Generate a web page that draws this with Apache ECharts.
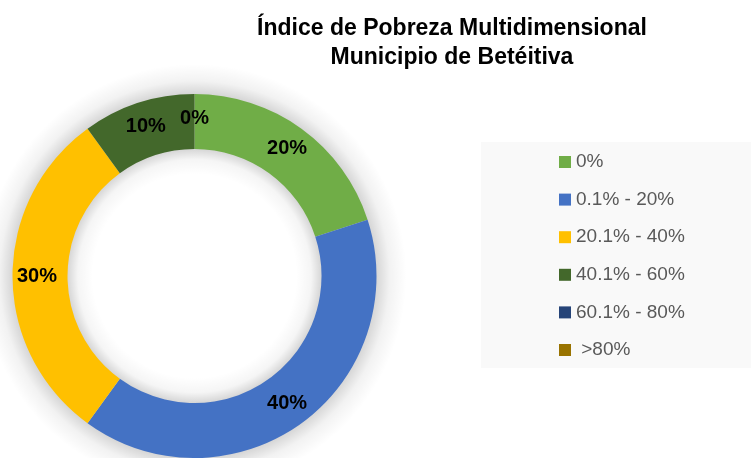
<!DOCTYPE html>
<html>
<head>
<meta charset="utf-8">
<script src="https://cdn.jsdelivr.net/npm/echarts@6/dist/echarts.min.js"></script>
<style>
  html, body { margin: 0; padding: 0; background: #fff; }
  #chart { width: 751px; height: 458px; }
</style>
</head>
<body>
<div id="chart"></div>
<script>
const titleLines = ['Índice de Pobreza Multidimensional', 'Municipio de Betéitiva']
const categories = ['0%', '0.1% - 20%', '20.1% - 40%', '40.1% - 60%', '60.1% - 80%', ' >80%']
const values = [20, 40, 30, 10, 0, 0]
const colors = ['#70AD47', '#4472C4', '#FFC000', '#43682B', '#264478', '#997300']

const font = "'Liberation Sans Narrow', 'Arial Narrow', 'Liberation Sans', Arial, sans-serif"
const center = [194.5, 276]
const radius = [127, 182]
const glow = 212

const chart = echarts.init(document.getElementById('chart'))

const pieData = categories.map((name, i) => ({
  name: name,
  value: values[i],
  itemStyle: { color: colors[i] }
}))

// soft shadow faked with a radial gradient under the ring
const shadowStops = [
  { offset: 0.48, color: 'rgba(0,0,0,0)' },
  { offset: 0.55, color: 'rgba(0,0,0,0.04)' },
  { offset: radius[0] / glow, color: 'rgba(0,0,0,0.16)' },
  { offset: radius[1] / glow, color: 'rgba(0,0,0,0.16)' },
  { offset: 0.92, color: 'rgba(0,0,0,0.05)' },
  { offset: 1, color: 'rgba(0,0,0,0)' }
]

chart.setOption({
  backgroundColor: '#fff',
  animation: false,
  title: {
    text: titleLines.join('\n'),
    left: 447,
    top: 9,
    textAlign: 'center',
    textStyle: {
      fontFamily: font,
      fontWeight: 'bold',
      fontSize: 23,
      lineHeight: 29,
      color: '#000'
    }
  },
  graphic: [
    {
      type: 'rect',
      z: -10,
      shape: { x: 481, y: 142, width: 270, height: 226 },
      style: { fill: '#f9f9f9' },
      silent: true
    },
    {
      type: 'circle',
      z: -5,
      silent: true,
      shape: { cx: center[0], cy: center[1], r: glow },
      style: {
        fill: {
          type: 'radial',
          x: 0.5,
          y: 0.5,
          r: 0.5,
          colorStops: shadowStops
        }
      }
    }
  ],
  legend: {
    orient: 'vertical',
    left: 559,
    top: 150,
    padding: 0,
    icon: 'rect',
    itemWidth: 12,
    itemHeight: 12,
    itemGap: 13.6,
    data: categories,
    textStyle: {
      fontFamily: font,
      fontSize: 19,
      lineHeight: 24,
      color: '#595959'
    }
  },
  series: [
    {
      type: 'pie',
      z: 2,
      center: center,
      radius: radius,
      startAngle: 90,
      clockwise: true,
      percentPrecision: 0,
      label: {
        show: true,
        position: 'inside',
        formatter: '{d}%',
        fontFamily: font,
        fontWeight: 'bold',
        fontSize: 20,
        color: '#000'
      },
      labelLine: { show: false },
      emphasis: { scale: false },
      data: pieData
    }
  ]
})
</script>
</body>
</html>
